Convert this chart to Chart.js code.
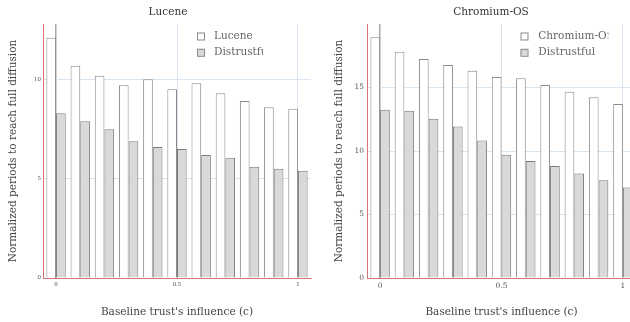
<!DOCTYPE html>
<html><head><meta charset="utf-8">
<script src="https://cdn.jsdelivr.net/npm/chart.js@4"></script>
<style>
html,body{margin:0;padding:0;background:#fff;overflow:hidden;width:630px;height:322px;position:relative}
#c1{position:absolute;left:0;top:0}
#c2{position:absolute;left:315px;top:0}
</style></head><body>
<canvas id="c1" width="315" height="322"></canvas>
<canvas id="c2" width="330" height="322"></canvas>
<script>
const influence = [0, 0.1, 0.2, 0.3, 0.4, 0.5, 0.6, 0.7, 0.8, 0.9, 1];
const xTickValues = [0, 0.5, 1];
const luceneValues = [12.09, 10.68, 10.18, 9.70, 10.0, 9.50, 9.80, 9.30, 8.91, 8.59, 8.51];
const luceneDistrustful = [8.29, 7.89, 7.48, 6.88, 6.59, 6.49, 6.19, 6.05, 5.60, 5.50, 5.40];
const luceneYTicks = [0, 5, 10];
const chromiumValues = [18.95, 17.82, 17.25, 16.77, 16.32, 15.83, 15.73, 15.19, 14.66, 14.23, 13.70];
const chromiumDistrustful = [13.24, 13.16, 12.53, 11.92, 10.83, 9.71, 9.22, 8.82, 8.23, 7.70, 7.12];
const chromiumYTicks = [0, 5, 10, 15];
const xAxisTitle = "Baseline trust's influence (c)";
const yAxisTitle = "Normalized periods to reach full diffusion";

const FONT = "'DejaVu Serif', serif";
const GRID = '#d8e5f0';
const AXIS_RED = '#d97272';

const decorPlugin = {
  id: 'decor',
  afterDraw(chart, args, o) {
    const ctx = chart.ctx;
    ctx.save();
    ctx.font = '10.5px ' + FONT;
    ctx.fillStyle = '#333';
    ctx.textAlign = 'center';
    ctx.textBaseline = 'middle';
    ctx.fillText(o.title, o.titleX, 12.7);
    const rows = [36, 52.3];
    chart.data.datasets.forEach((ds, i) => {
      const y = rows[i];
      ctx.fillStyle = ds.backgroundColor;
      ctx.strokeStyle = '#8a8a8a';
      ctx.lineWidth = 1;
      ctx.fillRect(o.boxX, y - 3.5, 7, 7);
      ctx.strokeRect(o.boxX + 0.5, y - 3.5 + 0.5, 7, 7);
      ctx.save();
      ctx.beginPath();
      ctx.rect(o.textX, y - 10, o.clipRight - o.textX, 20);
      ctx.clip();
      ctx.fillStyle = '#666';
      ctx.textAlign = 'left';
      ctx.font = '10.5px ' + FONT;
      ctx.fillText(ds.label, o.textX, y);
      ctx.restore();
    });
    ctx.restore();
  }
};

function makeChart(id, cfg) {
  const tickFont = { family: FONT, size: cfg.tickSize };
  new Chart(document.getElementById(id), {
    type: 'bar',
    data: {
      datasets: [
        { label: cfg.label, data: influence.map((x, i) => ({ x: x, y: cfg.values[i] })),
          backgroundColor: '#ffffff', borderColor: '#8a8a8a', borderWidth: 1 },
        { label: 'Distrustful', data: influence.map((x, i) => ({ x: x, y: cfg.distrust[i] })),
          backgroundColor: '#d9d9d9', borderColor: '#7a7a7a', borderWidth: 1 }
      ]
    },
    options: {
      responsive: false,
      animation: false,
      devicePixelRatio: 1,
      categoryPercentage: 0.8,
      barPercentage: 1,
      layout: { padding: { top: 24, right: cfg.padRight, left: 0, bottom: 0 } },
      plugins: {
        legend: { display: false },
        tooltip: { enabled: false },
        decor: cfg.decor
      },
      scales: {
        x: {
          type: 'linear', min: -0.054, max: 1.054, offset: false,
          afterBuildTicks: s => { s.ticks = xTickValues.map(v => ({ value: v })); },
          afterFit: s => { s.height = 44; },
          ticks: { font: tickFont, color: '#555', padding: cfg.xTickPad, maxRotation: 0, autoSkip: false,
                   callback: v => String(v) },
          grid: { drawTicks: false, offset: false,
                  color: c => (c.tick && c.tick.value === 0) ? '#a8a8a8' : GRID,
                  lineWidth: c => (c.tick && c.tick.value === 0) ? 1.5 : 1 },
          border: { color: AXIS_RED, width: 1 },
          title: { display: true, text: xAxisTitle, color: '#444',
                   font: { family: FONT, size: 10.5 }, padding: { top: 0, bottom: 3.7 } }
        },
        y: {
          min: 0, max: cfg.yMax,
          afterBuildTicks: s => { s.ticks = cfg.yTicks.map(v => ({ value: v })); },
          afterFit: s => { s.width = cfg.yWidth; },
          ticks: { font: tickFont, color: '#555', padding: cfg.yTickPad, autoSkip: false },
          grid: { drawTicks: false,
                  color: c => (c.tick && c.tick.value === 0) ? 'rgba(0,0,0,0)' : GRID },
          border: { color: AXIS_RED, width: 1 },
          title: { display: true, text: yAxisTitle, color: '#444',
                   font: { family: FONT, size: 10.5 }, padding: { top: cfg.yTitlePad, bottom: 0 } }
        }
      }
    },
    plugins: [decorPlugin]
  });
}

makeChart('c1', {
  label: 'Lucene', values: luceneValues, distrust: luceneDistrustful,
  yMax: 12.78, yTicks: luceneYTicks, yWidth: 43, padRight: 4,
  tickSize: 5.5, xTickPad: 3, yTickPad: 2, yTitlePad: 6.7,
  decor: { title: 'Lucene', titleX: 168, boxX: 197, textX: 214, clipRight: 263.3 }
});
makeChart('c2', {
  label: 'Chromium-OS', values: chromiumValues, distrust: chromiumDistrustful,
  yMax: 20, yTicks: chromiumYTicks, yWidth: 52, padRight: 9,
  tickSize: 7.5, xTickPad: 4, yTickPad: 3, yTitlePad: 17.7,
  decor: { title: 'Chromium-OS', titleX: 176, boxX: 205.5, textX: 223.3, clipRight: 293.3 }
});
</script>
</body></html>
